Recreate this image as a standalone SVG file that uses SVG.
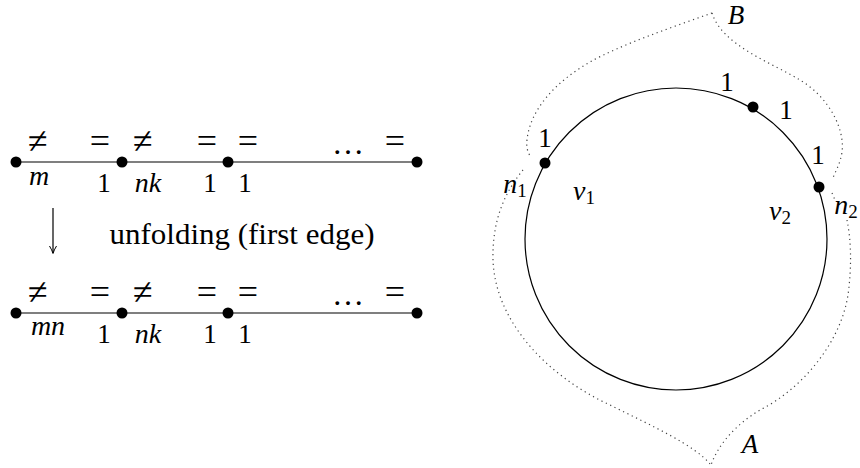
<svg xmlns="http://www.w3.org/2000/svg" width="860" height="468" viewBox="0 0 860 468">
<style>
text{font-family:'Liberation Serif','Times New Roman','DejaVu Serif',serif;fill:#000;text-anchor:middle}
.t{font-size:27px}
.i{font-style:italic;font-size:28px}
.s{font-size:19px;font-style:normal}
.y{font-size:36px}
.el{font-size:32px}
.e{stroke:#000;stroke-width:1.2;fill:none}
.d{stroke:#444;stroke-width:1.2;fill:none;stroke-dasharray:1.2 3.6}
</style>
<defs>
<marker id="ah" markerWidth="10" markerHeight="10" refX="8" refY="5" orient="auto" markerUnits="userSpaceOnUse">
<path d="M1,1.5 Q5,4 8.5,5 Q5,6 1,8.5" fill="none" stroke="#000" stroke-width="1"/>
</marker>
</defs>
<g id="connectors">
<line class="e" x1="16" y1="162" x2="417" y2="162"/>
<line class="e" x1="16" y1="313" x2="417" y2="313"/>
<line x1="53" y1="208" x2="53" y2="253" stroke="#000" stroke-width="1.2" marker-end="url(#ah)"/>
<circle class="e" cx="676" cy="239" r="151"/>
<path class="d" d="M712,13 C670,28 620,45 590,62 C555,82 530,110 527,140 C526,148 528,152 530,156"/>
<path class="d" d="M523,170 C505,192 492,220 493,260 C495,320 545,375 610,405 C650,425 695,445 711,465"/>
<path class="d" d="M712,13 C722,45 770,62 800,80 C830,98 845,130 842,152 C840,165 835,172 833,178"/>
<path class="d" d="M832,193 L835,200"/>
<path class="d" d="M847,220 C851,240 852,265 848,295 C840,345 800,390 760,410 C735,425 718,445 711,465"/>
</g>
<g id="row1">
<circle cx="16" cy="162" r="5.5"/><circle cx="122" cy="162" r="5.5"/><circle cx="228" cy="162" r="5.5"/><circle cx="417" cy="162" r="5.5"/>
<text class="y" x="38" y="153">≠</text>
<text class="y" x="100" y="153">=</text>
<text class="y" x="143" y="153">≠</text>
<text class="y" x="207" y="153">=</text>
<text class="y" x="248" y="153">=</text>
<text class="el" x="348" y="154">…</text>
<text class="y" x="395" y="153">=</text>
<text class="i" x="39" y="185">m</text>
<text class="t" x="104" y="192">1</text>
<text class="i" x="148" y="192">nk</text>
<text class="t" x="210" y="192">1</text>
<text class="t" x="245" y="192">1</text>
</g>
<g id="label-unfolding">
<text x="242" y="244" style="font-size:29px" textLength="265" lengthAdjust="spacingAndGlyphs">unfolding (first edge)</text>
</g>
<g id="row2">
<circle cx="16" cy="313" r="5.5"/><circle cx="122" cy="313" r="5.5"/><circle cx="228" cy="313" r="5.5"/><circle cx="417" cy="313" r="5.5"/>
<text class="y" x="38" y="304">≠</text>
<text class="y" x="100" y="304">=</text>
<text class="y" x="143" y="304">≠</text>
<text class="y" x="207" y="304">=</text>
<text class="y" x="248" y="304">=</text>
<text class="el" x="348" y="305">…</text>
<text class="y" x="395" y="304">=</text>
<text class="i" x="48" y="335">mn</text>
<text class="t" x="104" y="343">1</text>
<text class="i" x="148" y="343">nk</text>
<text class="t" x="210" y="343">1</text>
<text class="t" x="245" y="343">1</text>
</g>
<g id="circle-graph">
<circle cx="545" cy="163" r="5.5"/>
<circle cx="753" cy="107" r="5.5"/>
<circle cx="819" cy="187" r="5.5"/>
<text class="t" x="545" y="147">1</text>
<text class="t" x="727" y="91">1</text>
<text class="t" x="786" y="119">1</text>
<text class="t" x="818" y="164">1</text>
<text class="i" x="515" y="193">n<tspan class="s" dy="4">1</tspan></text>
<text class="i" x="584" y="200">v<tspan class="s" dy="4">1</tspan></text>
<text class="i" x="780" y="220">v<tspan class="s" dy="4">2</tspan></text>
<text class="i" x="846" y="214">n<tspan class="s" dy="4">2</tspan></text>
<text class="i" x="736" y="24" style="font-size:27px">B</text>
<text class="i" x="750" y="453" style="font-size:27px">A</text>
</g>
</svg>
